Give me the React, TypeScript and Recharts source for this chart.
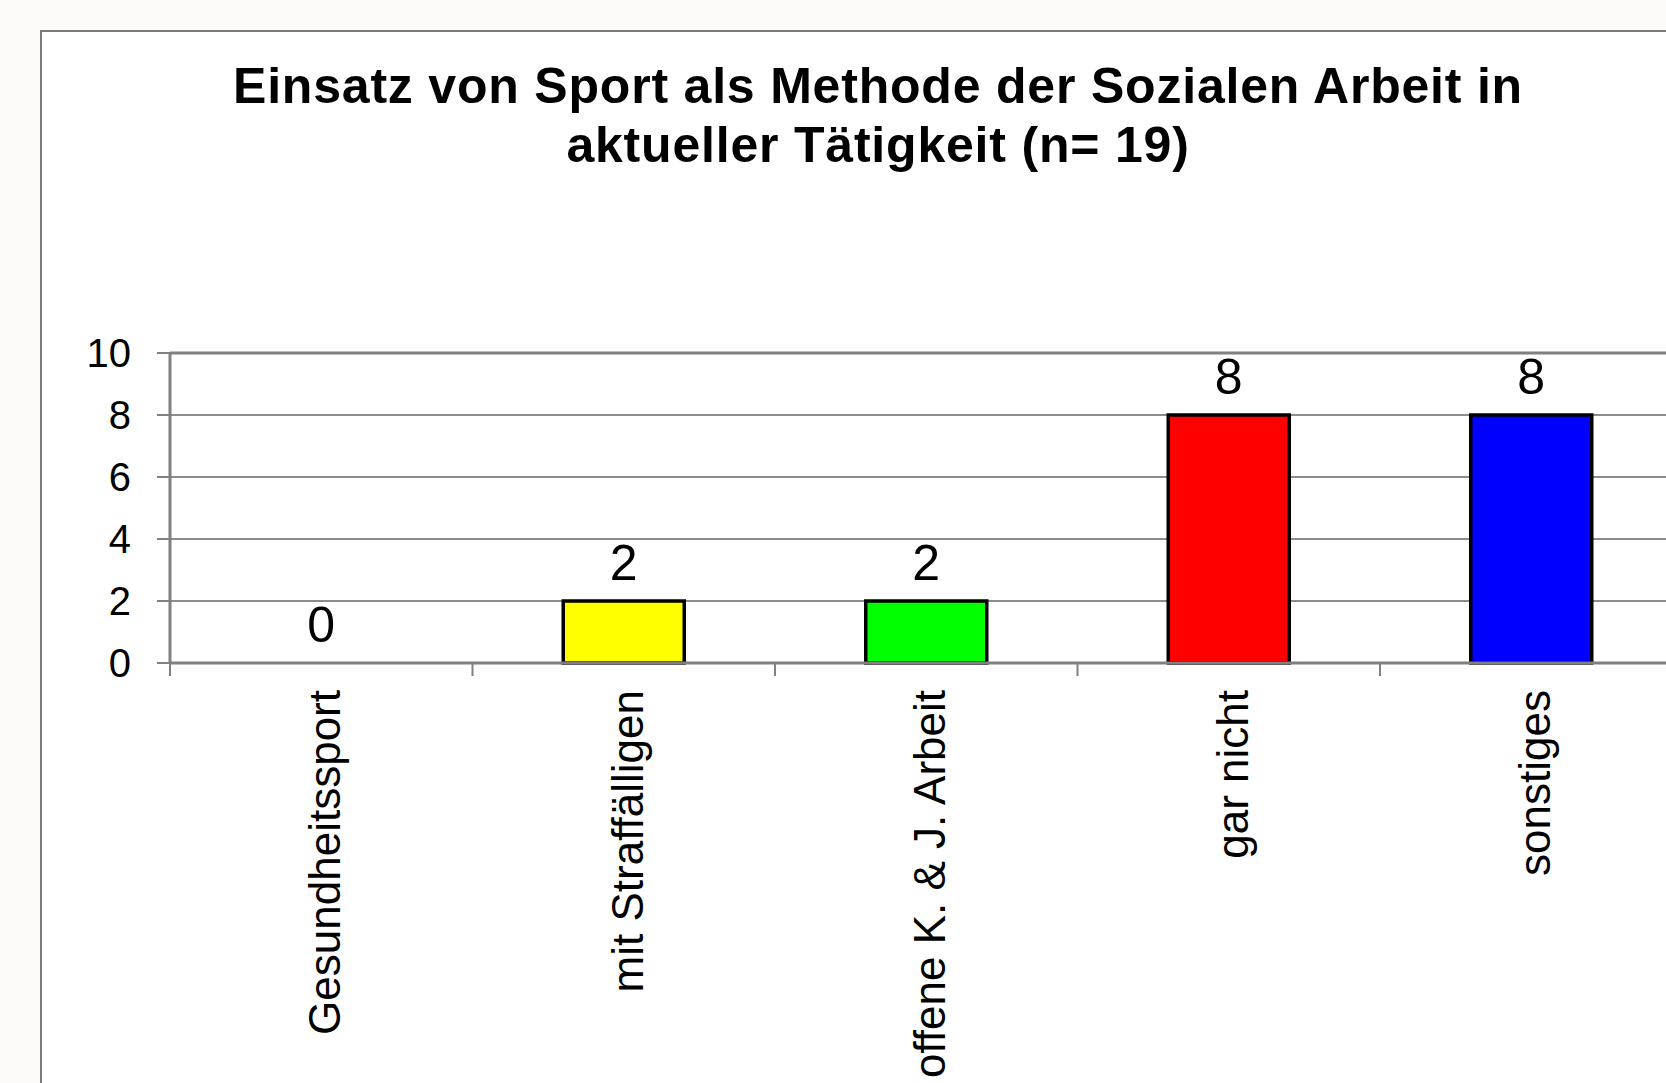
import {Bar, CartesianGrid, Cell, ComposedChart, LabelList, Line, ReferenceLine, XAxis, YAxis} from 'recharts';

const FONT = '"Liberation Sans", Arial, sans-serif';

const TITLE_LINES = ['Einsatz von Sport als Methode der Sozialen Arbeit in', 'aktueller Tätigkeit (n= 19)'];
const CATEGORIES = ['Gesundheitssport', 'mit Straffälligen', 'offene K. & J. Arbeit', 'gar nicht', 'sonstiges'];
const VALUES = [0, 2, 2, 8, 8];
const COLORS = ['#9999ff', '#ffff00', '#00ff00', '#ff0000', '#0000ff'];
const Y_TICKS = [0, 2, 4, 6, 8, 10];

const AXIS_GRAY = '#808080';

function CategoryTick(props: any) {
    const {x, y, payload, index} = props;
    const half = payload?.offset ?? 151;
    return (
        <g>
            <line x1={x - half} y1={y} x2={x - half} y2={y + 13} stroke={AXIS_GRAY} strokeWidth={2}/>
            {index === CATEGORIES.length - 1 && (
                <line x1={x + half} y1={y} x2={x + half} y2={y + 13} stroke={AXIS_GRAY} strokeWidth={2}/>
            )}
            <text
                x={x + 19}
                y={y + 27}
                transform={`rotate(-90, ${x + 19}, ${y + 27})`}
                textAnchor="end"
                fontSize={44}
                fontFamily={FONT}
                fill="#000"
            >
                {payload.value}
            </text>
        </g>
    );
}

export default function App() {
    const data = CATEGORIES.map((name, i) => ({name, value: VALUES[i]}));

    return (
        <div style={{position: 'fixed', left: 0, top: 0, width: 1666, height: 1083, overflow: 'hidden', background: '#fcfbf8'}}>
            <div style={{
                position: 'absolute', left: 40, top: 30, width: 1700, height: 1100,
                border: '2px solid #7a7a7a', background: '#ffffff',
            }}/>
            <div style={{
                position: 'absolute', left: 0, top: 57, width: 1756, textAlign: 'center',
                fontFamily: FONT, fontWeight: 'bold', fontSize: 50, lineHeight: '58.5px',
                letterSpacing: '0.8px', color: '#000',
            }}>
                {TITLE_LINES.map((line) => <div key={line}>{line}</div>)}
            </div>
            <div style={{position: 'absolute', left: 0, top: 0}}>
                <ComposedChart
                    width={1700}
                    height={1083}
                    data={data}
                    margin={{top: 353, right: 17.5, left: 70, bottom: 20}}
                    barCategoryGap="30%"
                >
                    <CartesianGrid vertical={false} stroke="#8c8c8c" strokeWidth={2}/>
                    <XAxis
                        dataKey="name"
                        height={400}
                        tickLine={false}
                        tickSize={0}
                        tickMargin={0}
                        axisLine={{stroke: AXIS_GRAY, strokeWidth: 3}}
                        interval={0}
                        tick={<CategoryTick/>}
                    />
                    <YAxis
                        width={100}
                        domain={[0, 10]}
                        ticks={Y_TICKS}
                        interval={0}
                        tickSize={13}
                        tickMargin={26}
                        axisLine={{stroke: AXIS_GRAY, strokeWidth: 3}}
                        tickLine={{stroke: AXIS_GRAY, strokeWidth: 2}}
                        tick={{fontSize: 40, fontFamily: FONT, fill: '#000'}}
                    />
                    <ReferenceLine y={10} stroke={AXIS_GRAY} strokeWidth={3}/>
                    <Bar dataKey="value" stroke="#000" strokeWidth={3.5} isAnimationActive={false}>
                        {data.map((d, i) => <Cell key={d.name} fill={COLORS[i]}/>)}
                    </Bar>
                    {/* invisible line only carries the value labels, so the zero bar gets one too */}
                    <Line dataKey="value" stroke="none" dot={false} activeDot={false} legendType="none" isAnimationActive={false}>
                        <LabelList dataKey="value" position="top" offset={21} fontSize={50} fontFamily={FONT} fill="#000"/>
                    </Line>
                </ComposedChart>
            </div>
        </div>
    );
}
